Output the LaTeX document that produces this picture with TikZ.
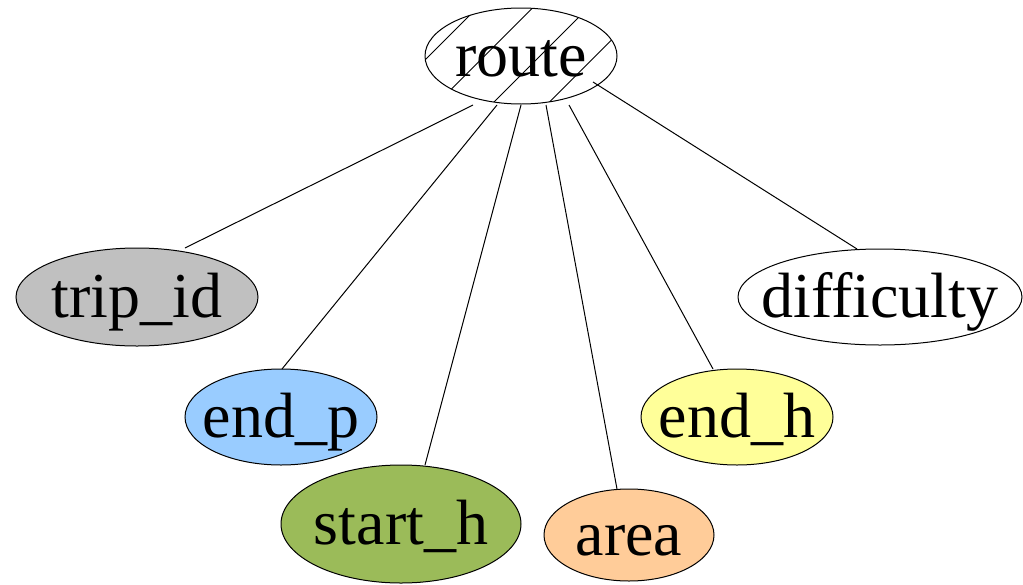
\documentclass[tikz,border=0pt]{standalone}
\usepackage{fontspec}
\setmainfont{Liberation Serif}
\usetikzlibrary{shapes.geometric,calc}

\definecolor{attrgray}{HTML}{C0C0C0}
\definecolor{attrblue}{HTML}{99CCFF}
\definecolor{attrgreen}{HTML}{9BBB59}
\definecolor{attrorange}{HTML}{FFCC99}
\definecolor{attryellow}{HTML}{FFFF99}

\newcommand{\lbl}[1]{\makebox[0pt]{#1}}

\tikzset{
  attr/.style={ellipse, draw=black, line width=0.5pt, inner sep=0pt,
    font=\fontsize{32}{36}\selectfont, text height=22pt, text depth=2pt},
  link/.style={draw=black, line width=0.5pt},
  hatch/.style={draw=black, line width=0.5pt}
}

\begin{document}
\begin{tikzpicture}[x=0.5pt, y=-0.5pt]
\useasboundingbox (0,0) rectangle (1023,584);

% entity with diagonal hatching
\begin{scope}
  \clip (521,56) ellipse [x radius=96, y radius=48];
  \foreach \c in {485,540.5,596,651.5}
    \draw[hatch] (\c-140,140) -- (\c+20,-20);
\end{scope}
\node[attr, minimum width=96pt, minimum height=48pt] (route) at (521,56) {\lbl{route}};

% attributes
\node[attr, fill=attrgray, minimum width=121pt, minimum height=49pt] (trip_id) at (137,297) {\lbl{trip\_id}};
\node[attr, fill=white, minimum width=142pt, minimum height=48pt] (difficulty) at (880,297) {\lbl{difficulty}};
\node[attr, fill=attrblue, minimum width=96pt, minimum height=48pt] (end_p) at (281,417) {\lbl{end\_p}};
\node[attr, fill=attryellow, minimum width=96pt, minimum height=48pt] (end_h) at (737,417) {\lbl{end\_h}};
\node[attr, fill=attrgreen, minimum width=120pt, minimum height=59pt] (start_h) at (401,524) {\lbl{start\_h}};
\node[attr, fill=attrorange, minimum width=85pt, minimum height=46pt] (area) at (629,535) {\lbl{area}};

% connectors
\draw[link] ($(route)+(-48,49)$) -- ($(trip_id)+(48,-49)$);
\draw[link] ($(route)+(-24,49)$) -- ($(end_p)+(1,-48)$);
\draw[link] ($(route)+(0,49)$) -- ($(start_h)+(24,-59)$);
\draw[link] ($(route)+(25,49)$) -- ($(area)+(-12,-46)$);
\draw[link] ($(route)+(48,49)$) -- ($(end_h)+(-24,-48)$);
\draw[link] ($(route)+(72,26)$) -- ($(difficulty)+(-23,-48)$);
\end{tikzpicture}
\end{document}
